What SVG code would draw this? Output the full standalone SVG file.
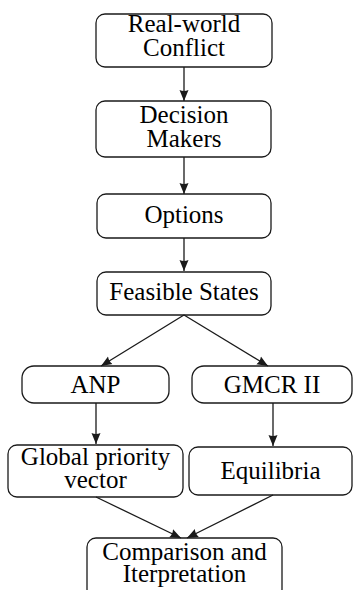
<svg xmlns="http://www.w3.org/2000/svg" width="353" height="590" viewBox="0 0 353 590">
<defs>
<style>
.box{fill:#fff;stroke:#1a1a1a;stroke-width:1.3}
.c{stroke:#1a1a1a;stroke-width:1.3;fill:none;marker-end:url(#ah)}
</style>
<marker id="ah" markerUnits="userSpaceOnUse" markerWidth="12" markerHeight="10" refX="11" refY="5" orient="auto">
<path d="M0,0.5 L11,5 L0,9.5 Q2,5 0,0.5 Z" fill="#1a1a1a"/>
</marker>
</defs>
<rect width="353" height="590" fill="#fff"/>
<g id="n1"><rect class="box" x="96" y="14" width="176" height="53" rx="9"/><text font-family="Times New Roman" font-size="25" text-anchor="middle" x="184" y="32">Real-world</text><text font-family="Times New Roman" font-size="25" text-anchor="middle" x="184" y="56">Conflict</text></g>
<g id="n2"><rect class="box" x="96" y="101" width="175" height="56" rx="9"/><text font-family="Times New Roman" font-size="25" text-anchor="middle" x="184" y="123">Decision</text><text font-family="Times New Roman" font-size="25" text-anchor="middle" x="184" y="147">Makers</text></g>
<g id="n3"><rect class="box" x="97" y="194" width="174" height="44" rx="9"/><text font-family="Times New Roman" font-size="25" text-anchor="middle" x="184" y="223">Options</text></g>
<g id="n4"><rect class="box" x="97" y="272" width="174" height="43" rx="9"/><text font-family="Times New Roman" font-size="25" text-anchor="middle" x="184" y="300">Feasible States</text></g>
<g id="n5"><rect class="box" x="22" y="366" width="147" height="37" rx="12"/><text font-family="Times New Roman" font-size="25" text-anchor="middle" x="95.5" y="393">ANP</text></g>
<g id="n6"><rect class="box" x="192" y="366" width="160" height="37" rx="12"/><text font-family="Times New Roman" font-size="25" text-anchor="middle" x="272" y="393">GMCR II</text></g>
<g id="n7"><rect class="box" x="8" y="445" width="175" height="52" rx="9"/><text font-family="Times New Roman" font-size="25" text-anchor="middle" x="95.5" y="465">Global priority</text><text font-family="Times New Roman" font-size="25" text-anchor="middle" x="95.5" y="488">vector</text></g>
<g id="n8"><rect class="box" x="189" y="447" width="163" height="48" rx="9"/><text font-family="Times New Roman" font-size="25" text-anchor="middle" x="270.5" y="479">Equilibria</text></g>
<g id="n9"><rect class="box" x="87" y="538" width="195" height="60" rx="9"/><text font-family="Times New Roman" font-size="25" text-anchor="middle" x="184.5" y="560">Comparison and</text><text font-family="Times New Roman" font-size="25" text-anchor="middle" x="184.5" y="582">Iterpretation</text></g>
<g id="connectors">
<line class="c" x1="184" y1="67" x2="184" y2="101"/>
<line class="c" x1="184" y1="157" x2="184" y2="194"/>
<line class="c" x1="184" y1="238" x2="184" y2="271"/>
<line class="c" x1="184" y1="315" x2="101" y2="366"/>
<line class="c" x1="184" y1="315" x2="268" y2="366"/>
<line class="c" x1="96" y1="403" x2="96" y2="444"/>
<line class="c" x1="273" y1="403" x2="273" y2="446"/>
<line class="c" x1="96" y1="497" x2="181" y2="538"/>
<line class="c" x1="273" y1="495" x2="187" y2="538"/>
</g>
</svg>
